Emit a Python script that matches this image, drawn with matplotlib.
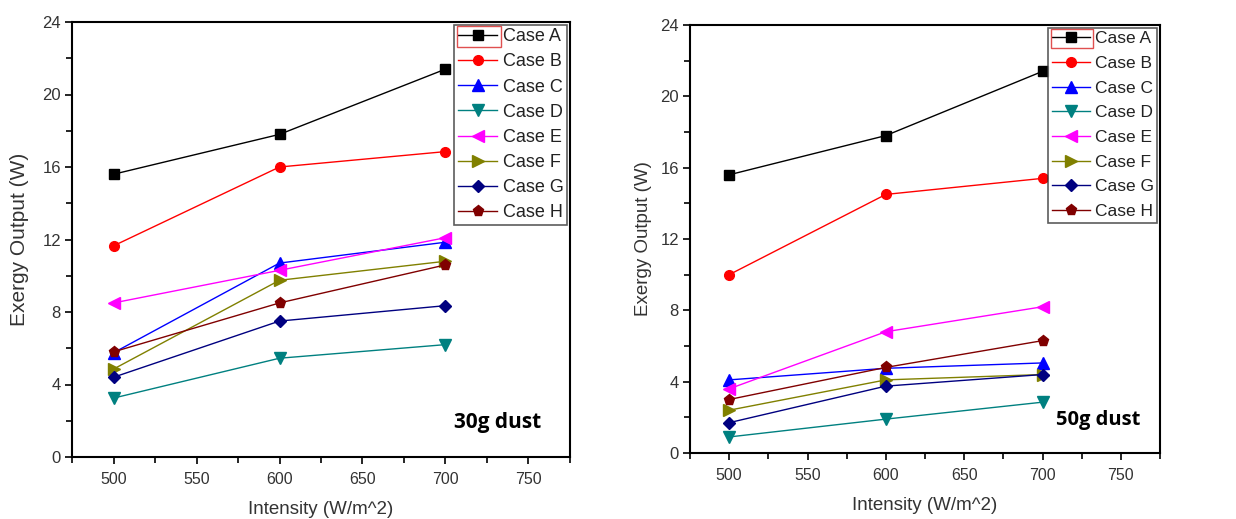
import matplotlib.pyplot as plt
from matplotlib.ticker import MultipleLocator
from matplotlib.patches import Rectangle

plt.rcParams["font.family"] = ["Liberation Sans", "DejaVu Sans"]

# data
intensity = [500, 600, 700]
cases = ["Case A", "Case B", "Case C", "Case D", "Case E", "Case F", "Case G", "Case H"]

dust30 = {
    "Case A": [15.6, 17.8, 21.4],
    "Case B": [11.65, 16.0, 16.85],
    "Case C": [5.75, 10.7, 11.85],
    "Case D": [3.25, 5.45, 6.2],
    "Case E": [8.5, 10.3, 12.1],
    "Case F": [4.85, 9.75, 10.8],
    "Case G": [4.4, 7.5, 8.35],
    "Case H": [5.8, 8.5, 10.6],
}
dust50 = {
    "Case A": [15.6, 17.8, 21.4],
    "Case B": [10.0, 14.5, 15.4],
    "Case C": [4.1, 4.75, 5.05],
    "Case D": [0.9, 1.9, 2.85],
    "Case E": [3.6, 6.8, 8.2],
    "Case F": [2.4, 4.1, 4.4],
    "Case G": [1.7, 3.75, 4.4],
    "Case H": [3.0, 4.8, 6.3],
}

colors = ["#000000", "#ff0000", "#0000ff", "#008080", "#ff00ff", "#808000", "#000080", "#800000"]
markers = ["s", "o", "^", "v", "<", ">", "D", "p"]
msizes = [7, 7, 8, 8, 8, 8, 6, 8]

fig = plt.figure(figsize=(12.36, 5.19), dpi=100)
W, H = 1236, 519
ax1 = fig.add_axes([72 / W, 1 - 457 / H, (570 - 72) / W, (457 - 22) / H])
ax2 = fig.add_axes([690 / W, 1 - 453 / H, (1160 - 690) / W, (453 - 25) / H])

# axes, data, annotation, text pos/size, ylabel size, legend font size, legend spacing
panels = [(ax1, dust30, "30g dust", 0.942, 0.08, 15, 15, 13, 0.45),
          (ax2, dust50, "50g dust", 0.958, 0.077, 14.5, 13.5, 12.5, 0.55)]

for ax, data, label, tx, ty, tfs, ylfs, lfs, lsp in panels:
    for i, c in enumerate(cases):
        ax.plot(intensity, data[c], color=colors[i], marker=markers[i], ms=msizes[i],
                lw=1.0, label=c)
    ax.set_xlim(475, 775)
    ax.set_ylim(0, 24)
    ax.xaxis.set_major_locator(MultipleLocator(50))
    ax.xaxis.set_minor_locator(MultipleLocator(25))
    ax.yaxis.set_major_locator(MultipleLocator(4))
    ax.yaxis.set_minor_locator(MultipleLocator(2))
    ax.tick_params(which="both", direction="out", top=False, right=False,
                   labelcolor="#333333", width=1.2)
    ax.tick_params(axis="x", labelsize=11.5, pad=6)
    ax.tick_params(axis="y", labelsize=12, pad=3)
    ax.tick_params(which="major", length=5)
    ax.tick_params(which="minor", length=4)
    for s in ax.spines.values():
        s.set_linewidth(1.5)
    ax.set_xlabel("Intensity (W/m^2)", fontsize=13.5, color="#333333", labelpad=10)
    ax.set_ylabel("Exergy Output (W)", fontsize=ylfs, color="#333333")
    leg = ax.legend(loc="upper right", fontsize=lfs, frameon=True, fancybox=False,
                    edgecolor="#333333", borderaxespad=0.15, handlelength=2.2,
                    labelspacing=lsp, borderpad=0.2, handletextpad=0.3)
    leg.get_frame().set_linewidth(1.2)
    for t in leg.get_texts():
        t.set_color("#222222")
    ax.text(tx, ty, label, transform=ax.transAxes, ha="right", va="center",
            fontsize=tfs, fontweight="bold", family="Open Sans")

fig.canvas.draw()
# y label horizontal positions (pixels)
for ax, xpix in [(ax1, 29), (ax2, 652)]:
    bb = ax.get_window_extent()
    ax.yaxis.set_label_coords((xpix - bb.x0) / bb.width, 0.5)

fig.canvas.draw()
# red selection box around the first legend entry
for ax in (ax1, ax2):
    leg = ax.get_legend()
    bb = leg.get_window_extent()
    txt_bb = leg.get_texts()[0].get_window_extent()
    x0 = bb.x0 + 3
    x1 = txt_bb.x0 - 2
    y0 = txt_bb.y0 - 2
    y1 = txt_bb.y1 + 2
    fig.patches.append(Rectangle((x0 / W, y0 / H), (x1 - x0) / W, (y1 - y0) / H,
                                 transform=fig.transFigure, fill=False,
                                 edgecolor="#e05050", lw=1.0, zorder=10))

fig.savefig("out.png", dpi=100)
